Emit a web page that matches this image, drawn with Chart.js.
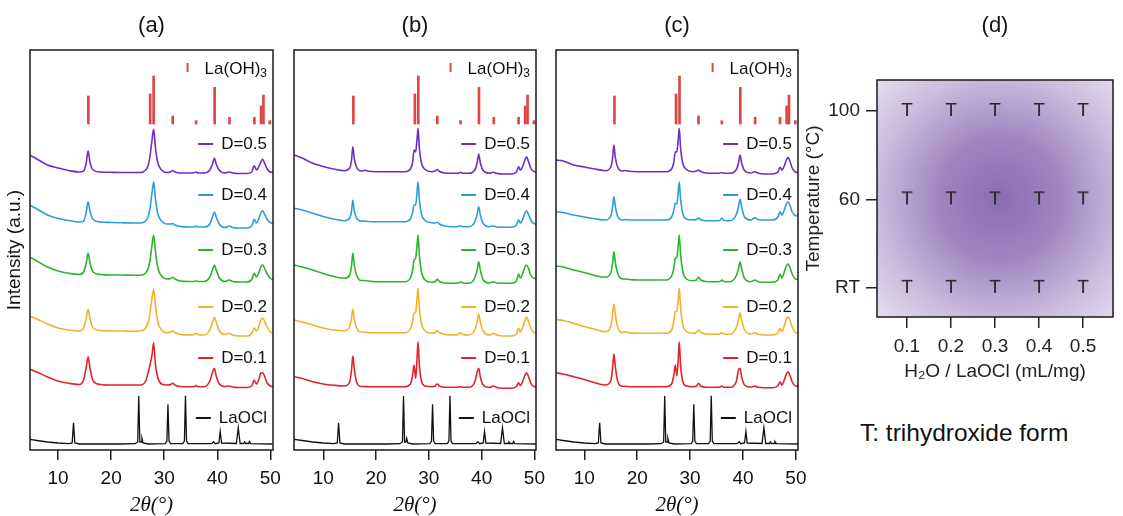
<!DOCTYPE html>
<html><head><meta charset="utf-8">
<script src="https://cdn.jsdelivr.net/npm/chart.js"></script>
<style>
html,body{margin:0;padding:0;background:#fff;width:1123px;height:516px;overflow:hidden;position:relative}
canvas{position:absolute;top:0}
#note{position:absolute;left:860px;top:421px;font:24.5px 'Liberation Sans',Arial,sans-serif;line-height:1;color:#111;white-space:nowrap}
</style></head>
<body>
<canvas id="ca" width="303" height="518" style="left:0px;width:303px;height:518px"></canvas>
<canvas id="cb" width="300" height="518" style="left:265px;width:300px;height:518px"></canvas>
<canvas id="cc" width="300" height="518" style="left:527px;width:300px;height:518px"></canvas>
<canvas id="cd" width="390" height="384" style="left:800px;width:390px;height:384px"></canvas>
<div id="note">T: trihydroxide form</div>
<script>
// ---------- DATA ----------
const seriesLabels = ['D=0.1', 'D=0.2', 'D=0.3', 'D=0.4', 'D=0.5'];

// panel (a) 2theta grid and stacked intensities (a.u., offset traces)
const gridA = [4.6, 6, 8, 10, 12, 14, 14.8, 15.3, 15.65, 16.0, 16.6, 18, 20, 22, 24, 25.5, 26.5, 27.0, 27.35, 27.7, 28.0, 28.35, 28.8, 29.5, 30.5, 31.2, 31.6, 32.0, 33, 34.5, 35.6, 36.0, 36.4, 37.5, 38.6, 39.1, 39.45, 39.8, 40.4, 41.5, 42.2, 42.9, 44, 45.5, 46.5, 46.95, 47.4, 47.8, 48.2, 48.55, 48.9, 49.4, 50.0, 50.5];
const a_D05 = [295, 291, 285, 282, 279.5, 278, 279, 287, 299.3, 288, 280, 278, 277.7, 277.5, 277.5, 277.5, 280, 285, 295, 310, 320.7, 302, 287, 280, 277.5, 278, 279.5, 278, 277, 277, 277.2, 278, 277, 277, 280, 286, 291.7, 286, 279.5, 277, 278, 277, 276.5, 276.5, 278, 284.3, 280, 283, 288, 290.7, 287, 281, 278, 277.5];
const a_D04 = [245, 241, 235, 231.5, 229.5, 228, 229, 238, 248.3, 239, 230.5, 228, 227.5, 227.2, 227, 227, 229, 234, 243, 257, 268.3, 251, 236, 229, 226, 226, 226.5, 225, 223.5, 223, 223, 224, 223, 223, 226, 233, 238.3, 233, 225.5, 222.5, 224, 222.5, 222, 222, 224, 230.7, 227, 231, 237, 239.3, 236, 230.5, 227.5, 226.5];
const a_D03 = [193, 189, 183, 179, 176.7, 175.5, 178, 187, 197, 187, 178, 175.5, 175, 175, 174.7, 174.7, 177, 182, 191, 205, 215, 198, 182, 174, 171, 171.5, 172.7, 171, 169, 168.5, 168.5, 169.3, 168.5, 168.5, 173, 180, 185, 180, 172, 168.5, 170, 168.5, 168, 168, 170.5, 176.7, 173, 177, 183, 185, 182, 176, 171.5, 170.5];
const a_D02 = [134, 131, 126, 122, 120, 119, 122, 132, 140.7, 132, 122, 119.5, 119, 119, 118.7, 119, 122, 128, 138, 152, 160.7, 144, 128, 120, 117.3, 118, 119.3, 117.5, 115.5, 115, 115.5, 116.7, 115.5, 115, 120, 128, 132.7, 128, 119, 115.5, 116.7, 115, 114, 114, 116.5, 122.3, 119, 123, 130, 131.7, 129, 123, 118, 117];
const a_D01 = [81, 78, 73, 69, 66.7, 65.5, 70, 83, 93.3, 82, 69, 65.5, 65, 65, 65, 65, 69, 78, 86, 95, 107.3, 85, 72, 66, 65, 65.5, 66.7, 65, 63.5, 63.3, 63.3, 64.5, 63.3, 63.3, 69, 78, 81.7, 74, 66, 63.5, 64, 63, 62.5, 62.5, 64, 70, 66, 70, 77, 77.3, 74, 67, 64, 63.3];

// panels (b) and (c) 2theta grid
const gridBC = [4.5, 6, 8, 10, 12, 14, 15.0, 15.35, 15.6, 15.85, 16.3, 17.2, 17.8, 18.5, 20, 22, 24, 25.5, 26.5, 26.9, 27.2, 27.5, 27.75, 27.95, 28.2, 28.6, 29.3, 30.5, 31.2, 31.6, 32.0, 33, 34.5, 35.6, 36.0, 36.4, 37.5, 38.7, 39.15, 39.45, 39.75, 40.3, 41.5, 42.2, 42.9, 44, 45.5, 46.6, 47.0, 47.35, 47.8, 48.2, 48.5, 48.85, 49.3, 49.9, 50.4];
const b_D05 = [295, 292, 286.7, 283.5, 281, 279.3, 282, 290, 303.3, 292, 283, 279, 279.7, 278.7, 278.3, 278.3, 278.3, 278.3, 281, 287, 300, 298, 310, 321.7, 302, 287, 280.5, 278.3, 279, 280.5, 278.5, 277, 276.7, 276.8, 277.7, 276.7, 276.7, 280, 287, 296, 287, 279.5, 276.7, 277.7, 276.5, 276, 276, 278, 283.3, 280, 284, 290, 293.3, 289, 282, 278.5, 278.3];
const b_D04 = [241.7, 240, 236.7, 233.5, 231, 229.3, 232, 239, 250, 240, 232, 228.7, 229, 228.5, 228.3, 228.3, 228.3, 228.3, 231, 237, 245, 245, 257, 268.3, 251, 236, 229.5, 227.3, 227, 227.7, 226, 224, 223.3, 223.5, 224.3, 223.3, 223.3, 228, 236, 243.3, 235, 226.5, 223.3, 224, 223, 222.7, 222.7, 225, 230, 227, 231, 237, 239.3, 236, 230, 226.5, 226];
const b_D03 = [185, 183, 180, 176.5, 173.5, 171.7, 175, 184, 197, 186, 175, 169.5, 169.5, 169, 168.3, 168.3, 168.3, 168.3, 172, 179, 190, 192, 204, 215, 195, 178, 170, 167.7, 168.5, 170.7, 168.5, 167, 166.7, 167, 168.3, 167, 166.7, 172, 180, 188.3, 180, 170, 167, 168.3, 167, 166.7, 166.7, 169, 176, 172, 177, 183, 185, 182, 175, 171.7, 171.5];
const b_D02 = [130, 128, 125, 122, 120, 119.3, 123, 132, 140.7, 132, 122, 118, 118, 117.5, 117.3, 117.3, 117.3, 117.3, 121, 128, 136.7, 138, 151, 161.7, 142, 126, 119, 116.7, 117.5, 119.3, 117.5, 115.5, 115, 115.5, 117.3, 115.5, 115, 120, 128, 136, 128, 119, 115, 116.7, 115, 114, 114, 116, 121.7, 118, 123, 130, 132.7, 129, 122, 117.5, 116.7];
const b_D01 = [73.3, 71.5, 68.3, 66, 64.7, 64, 68, 80, 94, 82, 68, 63.5, 63.5, 63.3, 63.3, 63.3, 63.3, 63.3, 66, 74, 85, 71.7, 90, 108.3, 85, 69, 64, 63.3, 64, 66, 64, 62.7, 62.7, 63, 63.3, 62.7, 62.7, 68, 78, 81.7, 73, 65, 62.5, 64, 62.5, 61.7, 61.7, 63.5, 67.3, 64.5, 69, 75, 77.3, 74, 67, 63.5, 63.3];
const c_D05 = [290, 289, 285, 283, 281, 279.3, 283, 292, 305, 293, 283, 279, 279.5, 278.7, 278.3, 278.3, 278.3, 278.3, 281, 287, 298.3, 298, 310, 321.7, 302, 287, 280.5, 278.3, 279, 280, 278.5, 277, 276.7, 276.8, 277.5, 276.7, 276.7, 280, 287, 295, 287, 279.5, 277, 278.3, 276.7, 276, 276, 278, 282.7, 280, 284, 290, 292.7, 289, 282, 278, 277.3];
const c_D04 = [238.3, 237.5, 235, 233, 231.2, 230, 234, 243, 253.3, 244, 234, 230, 230.5, 230, 230, 230, 230, 230, 233, 239, 246.7, 246, 257, 268.3, 251, 237, 231, 230, 230.5, 232, 230.3, 229.3, 229.3, 229.5, 231.7, 229.5, 229.3, 235, 243, 250.7, 243, 233, 230, 232.3, 230.3, 230, 230, 233, 238.3, 235, 240, 246, 248.3, 245, 238, 234.5, 234];
const c_D03 = [184, 183, 180, 177.5, 174.5, 172.7, 177, 187, 198.3, 188, 177, 171, 171, 170.5, 170, 170, 170, 170, 174, 181, 191.7, 193, 204, 215, 196, 179, 171, 169.3, 170, 172.7, 170, 168.5, 168.3, 168.5, 170, 168.5, 168.3, 174, 181, 188.3, 181, 171.5, 168.3, 170, 168.3, 167.7, 167.7, 170, 176, 172, 178, 184, 186, 183, 176, 171, 170.7];
const c_D02 = [130.7, 129.5, 126.7, 123.5, 120.7, 118.3, 124, 135, 146, 136, 123, 117.5, 118.3, 117.2, 116.7, 116.7, 116.7, 116.7, 120, 128, 138.3, 139, 151, 161.7, 142, 126, 118.5, 116.7, 117.5, 120, 117.5, 116, 115.7, 116, 117.3, 116, 115.7, 122, 130, 137.3, 130, 120, 116, 117.3, 115.7, 115, 115, 117, 121.7, 118.5, 124, 131, 133.3, 130, 123, 117.5, 116.7];
const c_D01 = [77.3, 76, 73.3, 70.5, 67.3, 65, 69, 82, 96, 84, 69, 63.7, 63.7, 63.3, 63.3, 63.3, 63.3, 63.3, 66, 74, 85, 74, 90, 108.3, 85, 69, 64, 63.3, 64, 66.7, 64, 62.7, 62.7, 63, 64, 62.7, 62.7, 68, 80, 81.7, 73, 65, 62.7, 64, 62.7, 62.3, 62.3, 64, 68.3, 65, 70, 76, 78.3, 75, 68, 64, 63.7];

// LaOCl reference pattern (same in all three panels)
const laoclX = [4.5, 6, 8, 10, 12, 12.65, 12.9, 13.15, 14, 18, 22, 24.5, 25.0, 25.2, 25.4, 25.65, 25.8, 26.0, 27, 30.2, 30.5, 30.7, 30.9, 31.2, 33.5, 33.8, 34.0, 34.2, 34.5, 38.9, 39.3, 39.6, 40.3, 40.55, 40.8, 43.6, 43.95, 44.3, 45.0, 45.15, 45.4, 45.9, 46.05, 46.3, 50.4];
const laoclY = [10.7, 9.5, 8, 7, 6.3, 7, 27.3, 7, 6, 6, 6, 6.3, 8, 54, 8, 8, 11.7, 7, 6, 6.3, 9, 45.7, 9, 6.3, 6.3, 9, 54.3, 9, 6.3, 6.3, 8.3, 6.3, 7, 18.5, 7, 6.5, 22.3, 6.5, 6.5, 8, 6.5, 6.5, 8.5, 6.3, 6];

// La(OH)3 reference sticks
const stickX = [15.7, 27.35, 28.0, 31.6, 36.0, 39.5, 42.3, 47.0, 48.25, 48.7, 49.9];
const stickTop = [354, 356, 374, 334, 329.3, 362.7, 332.7, 332.7, 344, 355, 329.3];
const stickBase = 326;

// panel (d) map
const ratios = [0.1, 0.2, 0.3, 0.4, 0.5];
const temps = ['RT', '60', '100'];
const forms = [
  ['T', 'T', 'T', 'T', 'T'],
  ['T', 'T', 'T', 'T', 'T'],
  ['T', 'T', 'T', 'T', 'T']
];
const xTicks = [10, 20, 30, 40, 50];

// ---------- STYLE ----------
const FONT = "'Liberation Sans', Arial, sans-serif";
Chart.defaults.font.family = FONT;
Chart.defaults.color = '#111';
const colors = ['#E3222C', '#F2B12B', '#2BB52B', '#2A9EDA', '#6E2EC8'];
const stickColor = '#E04545';

const framePlugin = {
  id: 'frame',
  beforeDatasetsDraw(chart, args, o) {
    if (!o.gradient) return;
    const {ctx, chartArea: a} = chart;
    const cx = a.left + 0.52 * (a.right - a.left), cy = a.top + 0.5 * (a.bottom - a.top);
    const g = ctx.createRadialGradient(cx, cy, 0, cx, cy, 172);
    g.addColorStop(0, 'rgb(140,108,178)');
    g.addColorStop(0.35, 'rgb(160,132,193)');
    g.addColorStop(0.7, 'rgb(200,186,220)');
    g.addColorStop(1, 'rgb(230,223,239)');
    ctx.save(); ctx.fillStyle = g;
    ctx.fillRect(a.left, a.top, a.right - a.left, a.bottom - a.top);
    ctx.restore();
  },
  afterDatasetsDraw(chart, args, o) {
    const {ctx, chartArea: a} = chart;
    ctx.save(); ctx.strokeStyle = '#1a1a1a'; ctx.lineWidth = 1.5;
    ctx.strokeRect(a.left, a.top, a.right - a.left, a.bottom - a.top);
    ctx.restore();
  }
};

const legendPlugin = {
  id: 'xrdLegend',
  afterDatasetsDraw(chart, args, o) {
    if (!o.items) return;
    const {ctx, chartArea, scales: {y}} = chart;
    ctx.save();
    o.items.forEach(it => {
      const py = y.getPixelForValue(it.y);
      let xr = chartArea.right - 6;
      ctx.textBaseline = 'middle'; ctx.textAlign = 'right'; ctx.fillStyle = '#111';
      if (it.sub) {
        ctx.font = '12px ' + FONT;
        ctx.fillText(it.sub, xr, py + 5);
        xr -= ctx.measureText(it.sub).width;
      }
      ctx.font = '17px ' + FONT;
      ctx.fillText(it.text, xr, py);
      const xl = xr - ctx.measureText(it.text).width;
      ctx.strokeStyle = it.color; ctx.lineWidth = 2; ctx.beginPath();
      if (it.kind === 'stick') { ctx.moveTo(xl - 17, py - 6); ctx.lineTo(xl - 17, py + 3); }
      else { ctx.moveTo(xl - 23, py); ctx.lineTo(xl - 8, py); }
      ctx.stroke();
    });
    ctx.restore();
  }
};

function xrdChart(id, title, grid, traces, xmin, xmax, withYTitle) {
  const datasets = [{
    type: 'bar', label: 'La(OH)3',
    data: stickX.map((x, i) => ({x: x, y: [stickBase, stickTop[i]]})),
    backgroundColor: stickColor, borderWidth: 0, barThickness: 2
  }];
  traces.forEach((arr, k) => datasets.push({
    type: 'line', label: seriesLabels[k],
    data: grid.map((x, i) => ({x: x, y: arr[i]})),
    borderColor: colors[k], borderWidth: 1.6, pointRadius: 0,
    cubicInterpolationMode: 'monotone', fill: false
  }));
  datasets.push({
    type: 'line', label: 'LaOCl',
    data: laoclX.map((x, i) => ({x: x, y: laoclY[i]})),
    borderColor: '#111', borderWidth: 1.3, pointRadius: 0, tension: 0, fill: false
  });
  const hidden = {display: false};
  const scales = {
    x: {
      type: 'linear', min: xmin, max: xmax, offset: false,
      afterBuildTicks: s => { s.ticks = xTicks.map(v => ({value: v})); },
      afterFit: s => { s.height = 68; },
      ticks: {font: {size: 19}, padding: 7, color: '#111'},
      grid: {display: true, offset: false, drawOnChartArea: false, drawTicks: true, tickLength: 10, color: '#222', lineWidth: 1.5},
      border: hidden,
      title: {display: true, text: '2θ(°)', font: {family: "'Liberation Serif', 'Times New Roman', serif", size: 21, style: 'italic'}, padding: {top: 0, bottom: 0}, color: '#111'}
    },
    y: {
      type: 'linear', min: 0, max: 400, display: withYTitle,
      ticks: hidden, grid: hidden, border: hidden,
      title: {display: true, text: 'Intensity (a.u.)', font: {size: 19}, padding: {top: 3, bottom: 0}, color: '#111'}
    }
  };
  if (withYTitle) {
    scales.y.afterFit = s => { s.width = 30; };
    scales.y2 = {type: 'linear', position: 'right', display: true, ticks: hidden, grid: hidden, border: hidden, afterFit: s => { s.width = 30; }};
  }
  return new Chart(document.getElementById(id), {
    type: 'line',
    data: {datasets},
    options: {
      responsive: false, maintainAspectRatio: false, animation: false, events: [],
      layout: {padding: withYTitle ? 0 : {left: 29, right: 29, top: 0, bottom: 0}},
      scales,
      plugins: {
        legend: {display: false}, tooltip: {enabled: false},
        title: {display: true, text: title, font: {size: 22, weight: 'normal'}, color: '#111', padding: {top: 13, bottom: 10.6}},
        frame: {},
        xrdLegend: {items: [
          {text: 'La(OH)', sub: '3', y: 381, color: stickColor, kind: 'stick'},
          {text: seriesLabels[4], y: 306, color: colors[4]},
          {text: seriesLabels[3], y: 255, color: colors[3]},
          {text: seriesLabels[2], y: 200, color: colors[2]},
          {text: seriesLabels[1], y: 143, color: colors[1]},
          {text: seriesLabels[0], y: 92, color: colors[0]},
          {text: 'LaOCl', y: 32, color: '#111'}
        ]}
      }
    },
    plugins: [framePlugin, legendPlugin]
  });
}

xrdChart('ca', '(a)', gridA, [a_D01, a_D02, a_D03, a_D04, a_D05], 4.7, 50.5, true);
xrdChart('cb', '(b)', gridBC, [b_D01, b_D02, b_D03, b_D04, b_D05], 4.45, 50.3, false);
xrdChart('cc', '(c)', gridBC, [c_D01, c_D02, c_D03, c_D04, c_D05], 4.65, 50.4, false);

// ---------- panel (d) ----------
const glyphCache = {};
function glyph(ch) {
  if (glyphCache[ch]) return glyphCache[ch];
  const c = document.createElement('canvas'); c.width = 26; c.height = 26;
  const g = c.getContext('2d');
  g.font = '19px ' + FONT; g.fillStyle = '#262626'; g.textAlign = 'center'; g.textBaseline = 'middle';
  g.fillText(ch, 13, 13);
  glyphCache[ch] = c; return c;
}
const mapData = [];
temps.forEach((t, j) => ratios.forEach((r, i) => mapData.push({x: r, y: j, form: forms[j][i]})));
const hid = {display: false};
new Chart(document.getElementById('cd'), {
  type: 'scatter',
  data: {datasets: [{label: 'form', data: mapData, pointStyle: ctx => glyph(ctx.raw ? ctx.raw.form : 'T'), pointRadius: 10}]},
  options: {
    responsive: false, maintainAspectRatio: false, animation: false, events: [],
    layout: {padding: 0},
    scales: {
      x: {
        type: 'linear', min: 0.032, max: 0.568,
        afterBuildTicks: s => { s.ticks = ratios.map(v => ({value: v})); },
        afterFit: s => { s.height = 67; },
        ticks: {font: {size: 19}, padding: 7, color: '#222', callback: v => v.toFixed(1)},
        grid: {display: true, drawOnChartArea: false, drawTicks: true, tickLength: 11, color: '#222', lineWidth: 1.5},
        border: hid,
        title: {display: true, text: 'H₂O / LaOCl (mL/mg)', font: {size: 19}, padding: {top: 0, bottom: 1}, color: '#222'}
      },
      y: {
        type: 'linear', min: -0.33, max: 2.35,
        afterBuildTicks: s => { s.ticks = temps.map((t, i) => ({value: i})); },
        afterFit: s => { s.width = 77; },
        ticks: {font: {size: 19}, padding: 6, color: '#222', callback: v => temps[v]},
        grid: {display: true, drawOnChartArea: false, drawTicks: true, tickLength: 11, color: '#222', lineWidth: 1.5},
        border: hid,
        title: {display: true, text: 'Temperature (°C)', font: {size: 19}, padding: {top: 2, bottom: 0}, color: '#222'}
      },
      y2: {type: 'linear', position: 'right', display: true, ticks: hid, grid: hid, border: hid, afterFit: s => { s.width = 77; }}
    },
    plugins: {
      legend: {display: false}, tooltip: {enabled: false},
      title: {display: true, text: '(d)', font: {size: 22, weight: 'normal'}, color: '#111', padding: {top: 13, bottom: 40.6}},
      frame: {gradient: true}
    }
  },
  plugins: [framePlugin]
});
</script>
</body></html>
